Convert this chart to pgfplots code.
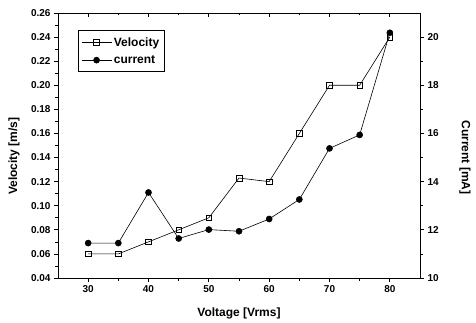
\documentclass[border=0pt]{standalone}
\usepackage{pgfplots}
\pgfplotsset{compat=1.18}
\usepackage{fontspec}
\setmainfont{Liberation Sans}
\begin{document}
\begin{tikzpicture}
\path[use as bounding box] (-58pt,-44pt) rectangle (418pt,278pt);
\pgfplotsset{
  common/.style={
    scale only axis, width=362pt, height=265pt,
    xmin=25, xmax=85,
    axis line style={line width=0.9pt},
    every tick/.style={black, line width=0.7pt},
    major tick length=4pt, minor tick length=2.5pt,
    tick label style={font=\bfseries\fontsize{10}{12}\selectfont},
    label style={font=\bfseries\fontsize{12}{14}\selectfont},
    /pgf/number format/assume math mode=true,
  }
}
\begin{axis}[common,
  axis x line*=bottom, axis y line*=left,
  tick align=outside,
  ymin=0.04, ymax=0.26,
  xtick={30,40,...,80}, minor x tick num=1,
  ytick={0.04,0.06,...,0.27}, minor y tick num=1,
  yticklabel style={/pgf/number format/.cd, fixed, fixed zerofill, precision=2},
  scaled y ticks=false,
  xlabel={Voltage [Vrms]}, ylabel={Velocity [m/s]},
  xlabel style={at={(axis description cs:0.5,-0.132)}, anchor=center},
  ylabel style={at={(axis description cs:-0.1215,0.46)}, anchor=center},
  legend image code/.code={\draw[mark repeat=2,mark phase=2,#1] plot coordinates {(0pt,0pt)(15pt,0pt)(30pt,0pt)};},
  legend style={at={(0.055,0.936)}, anchor=north west, draw=black, line width=0.7pt,
    font=\bfseries\fontsize{12}{13}\selectfont, inner xsep=3pt, inner ysep=5pt, row sep=4pt,
    legend cell align=left},
]
\addplot[black, line width=0.6pt, mark=square, mark size=2.8pt, mark options={solid, fill=white}]
coordinates {(30,0.06)(35,0.06)(40,0.07)(45,0.08)(50,0.09)(55,0.123)(60,0.12)(65,0.16)(70,0.20)(75,0.20)(80,0.24)};
\addlegendentry{Velocity}
\addlegendimage{black, line width=0.6pt, mark=*, mark size=3pt}
\addlegendentry{current}
\end{axis}
\begin{axis}[common,
  axis x line=none, axis y line*=right,
  tick align=outside,
  ymin=10, ymax=21,
  ytick={10,12,...,20}, minor y tick num=1,
  ylabel={Current [mA]},
  ylabel style={at={(axis description cs:1.1243,0.455)}, anchor=center, rotate=180},
]
\addplot[black, line width=0.6pt, mark=*, mark size=3pt]
coordinates {(30,11.45)(35,11.45)(40,13.55)(45,11.64)(50,12.01)(55,11.94)(60,12.45)(65,13.26)(70,15.38)(75,15.94)(80,20.18)};
\end{axis}
\begin{axis}[common,
  axis x line*=top, axis y line=none,
  tick align=inside,
  ymin=0, ymax=1,
  xtick={30,40,...,80}, minor x tick num=1,
  xticklabels={},
]
\end{axis}
\end{tikzpicture}
\end{document}
